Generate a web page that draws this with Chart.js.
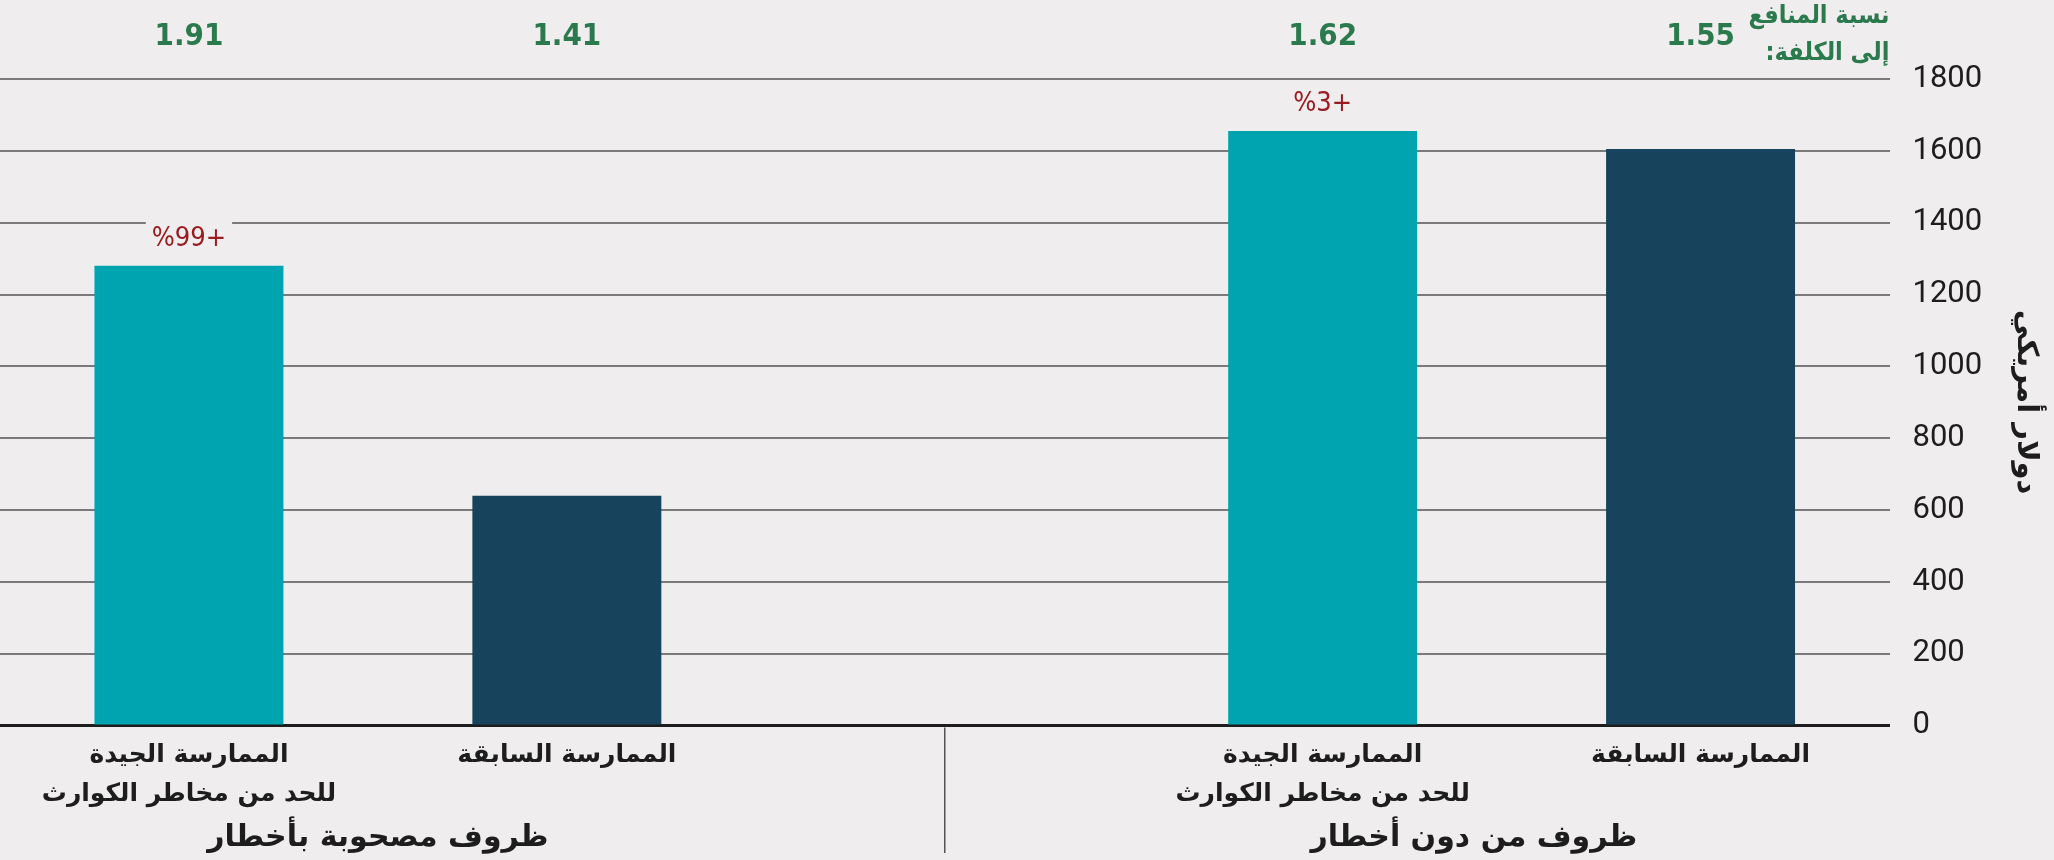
<!DOCTYPE html>
<html lang="ar">
<head>
<meta charset="utf-8">
<title>نسبة المنافع إلى الكلفة</title>
<script src="https://cdn.jsdelivr.net/npm/chart.js@4.4.1/dist/chart.umd.min.js"></script>
<style>
  html, body { margin: 0; padding: 0; background: #efedee; }
  #wrap { width: 2054px; height: 860px; position: relative; }
</style>
</head>
<body>
<div id="wrap"><canvas id="barChart"></canvas></div>
<script>
const categories = [
  ['الممارسة الجيدة', 'للحد من مخاطر الكوارث'],
  'الممارسة السابقة',
  '',
  ['الممارسة الجيدة', 'للحد من مخاطر الكوارث'],
  'الممارسة السابقة'
];
const costValues = [1280, 640, null, 1655, 1605];
const ratioLabels = ['1.91', '1.41', '', '1.62', '1.55'];
const changeLabels = ['%99+', '', '', '%3+', ''];
const groupLabels = ['ظروف مصحوبة بأخطار', 'ظروف من دون أخطار'];
const yTicks = [0, 200, 400, 600, 800, 1000, 1200, 1400, 1600, 1800];

const bgColor = '#efedee';
const teal = '#00a4b1';
const navy = '#17435c';
const green = '#2b7a4d';
const red = '#9a1b20';
const arabicFont = '"DejaVu Sans", sans-serif';
const arabicNarrow = '"DejaVu Sans Condensed", "DejaVu Sans", sans-serif';
const numFont = '"Liberation Sans Narrow", "DejaVu Sans Condensed", Roboto, sans-serif';

const ctxBar = document.getElementById('barChart');

// background + annotations drawn around the bars
const extras = {
  id: 'extras',
  beforeDraw(chart) {
    const c = chart.ctx;
    c.save();
    c.fillStyle = bgColor;
    c.fillRect(0, 0, chart.width, chart.height);
    c.restore();
  },
  afterDatasetsDraw(chart) {
    const c = chart.ctx;
    const x = chart.scales.x;
    const y = chart.scales.y;
    const area = chart.chartArea;
    c.save();

    // benefit/cost ratios above each bar
    c.font = 'bold 31px ' + numFont;
    c.fillStyle = green;
    c.textAlign = 'center';
    c.textBaseline = 'middle';
    c.direction = 'ltr';
    ratioLabels.forEach((t, i) => {
      if (t) c.fillText(t, x.getPixelForValue(i), 37);
    });

    // change labels over the teal bars
    c.font = '27px ' + numFont;
    changeLabels.forEach((t, i) => {
      if (!t) return;
      const px = x.getPixelForValue(i);
      const py = y.getPixelForValue(costValues[i]) - 27;
      const w = c.measureText(t).width + 12;
      c.fillStyle = bgColor;
      c.fillRect(px - w / 2, py - 17, w, 34);
      c.fillStyle = red;
      c.fillText(t, px, py);
    });

    // header on the right
    c.font = 'bold 25px ' + arabicNarrow;
    c.fillStyle = green;
    c.textAlign = 'right';
    c.direction = 'rtl';
    c.fillText('نسبة المنافع', area.right, 16);
    c.fillText('إلى الكلفة:', area.right, 53);

    // separator between the two groups
    const sx = x.getPixelForValue(2);
    c.strokeStyle = '#555';
    c.lineWidth = 1.5;
    c.beginPath();
    c.moveTo(sx, area.bottom + 2);
    c.lineTo(sx, 853);
    c.stroke();

    // group names
    c.font = 'bold 30px ' + arabicFont;
    c.fillStyle = '#1d1d1d';
    c.textAlign = 'center';
    const g1 = (x.getPixelForValue(0) + x.getPixelForValue(1)) / 2;
    const g2 = x.getPixelForValue(3) + (x.getPixelForValue(4) - x.getPixelForValue(3)) * 0.4;
    c.fillText(groupLabels[0], g1, 838);
    c.fillText(groupLabels[1], g2, 838);
    c.restore();
  }
};

const barChart = new Chart(ctxBar, {
  type: 'bar',
  data: {
    labels: categories,
    datasets: [{
      data: costValues,
      backgroundColor: [teal, navy, navy, teal, navy],
      borderWidth: 0,
      categoryPercentage: 1,
      barPercentage: 0.5
    }]
  },
  options: {
    responsive: true,
    maintainAspectRatio: false,
    animation: false,
    layout: {
      padding: { top: 79, right: 7, bottom: 35, left: 0 }
    },
    plugins: {
      legend: { display: false },
      tooltip: { enabled: false }
    },
    scales: {
      x: {
        offset: true,
        grid: { display: false, drawTicks: false, tickLength: 0 },
        border: { display: true, color: '#1d1d1d', width: 3 },
        ticks: {
          color: '#1d1d1d',
          font: { family: arabicFont, size: 25, weight: 'bold', lineHeight: 1.55 },
          padding: 11,
          maxRotation: 0,
          autoSkip: false
        }
      },
      y: {
        position: 'right',
        min: 0,
        max: 1800,
        afterBuildTicks: (axis) => { axis.ticks = yTicks.map(v => ({ value: v })); },
        grid: { color: '#7a7a7a', lineWidth: 2, drawTicks: false, tickLength: 0 },
        border: { display: false },
        ticks: {
          color: '#1d1d1d',
          font: { family: 'Roboto, sans-serif', size: 31 },
          padding: 23,
          callback: (v) => String(v)
        },
        title: {
          display: true,
          text: 'دولار أمريكي',
          color: '#1d1d1d',
          font: { family: arabicFont, size: 29, weight: 'bold', lineHeight: 1.2 },
          padding: { top: 4, bottom: 3 }
        }
      }
    }
  },
  plugins: [extras]
});
</script>
</body>
</html>
